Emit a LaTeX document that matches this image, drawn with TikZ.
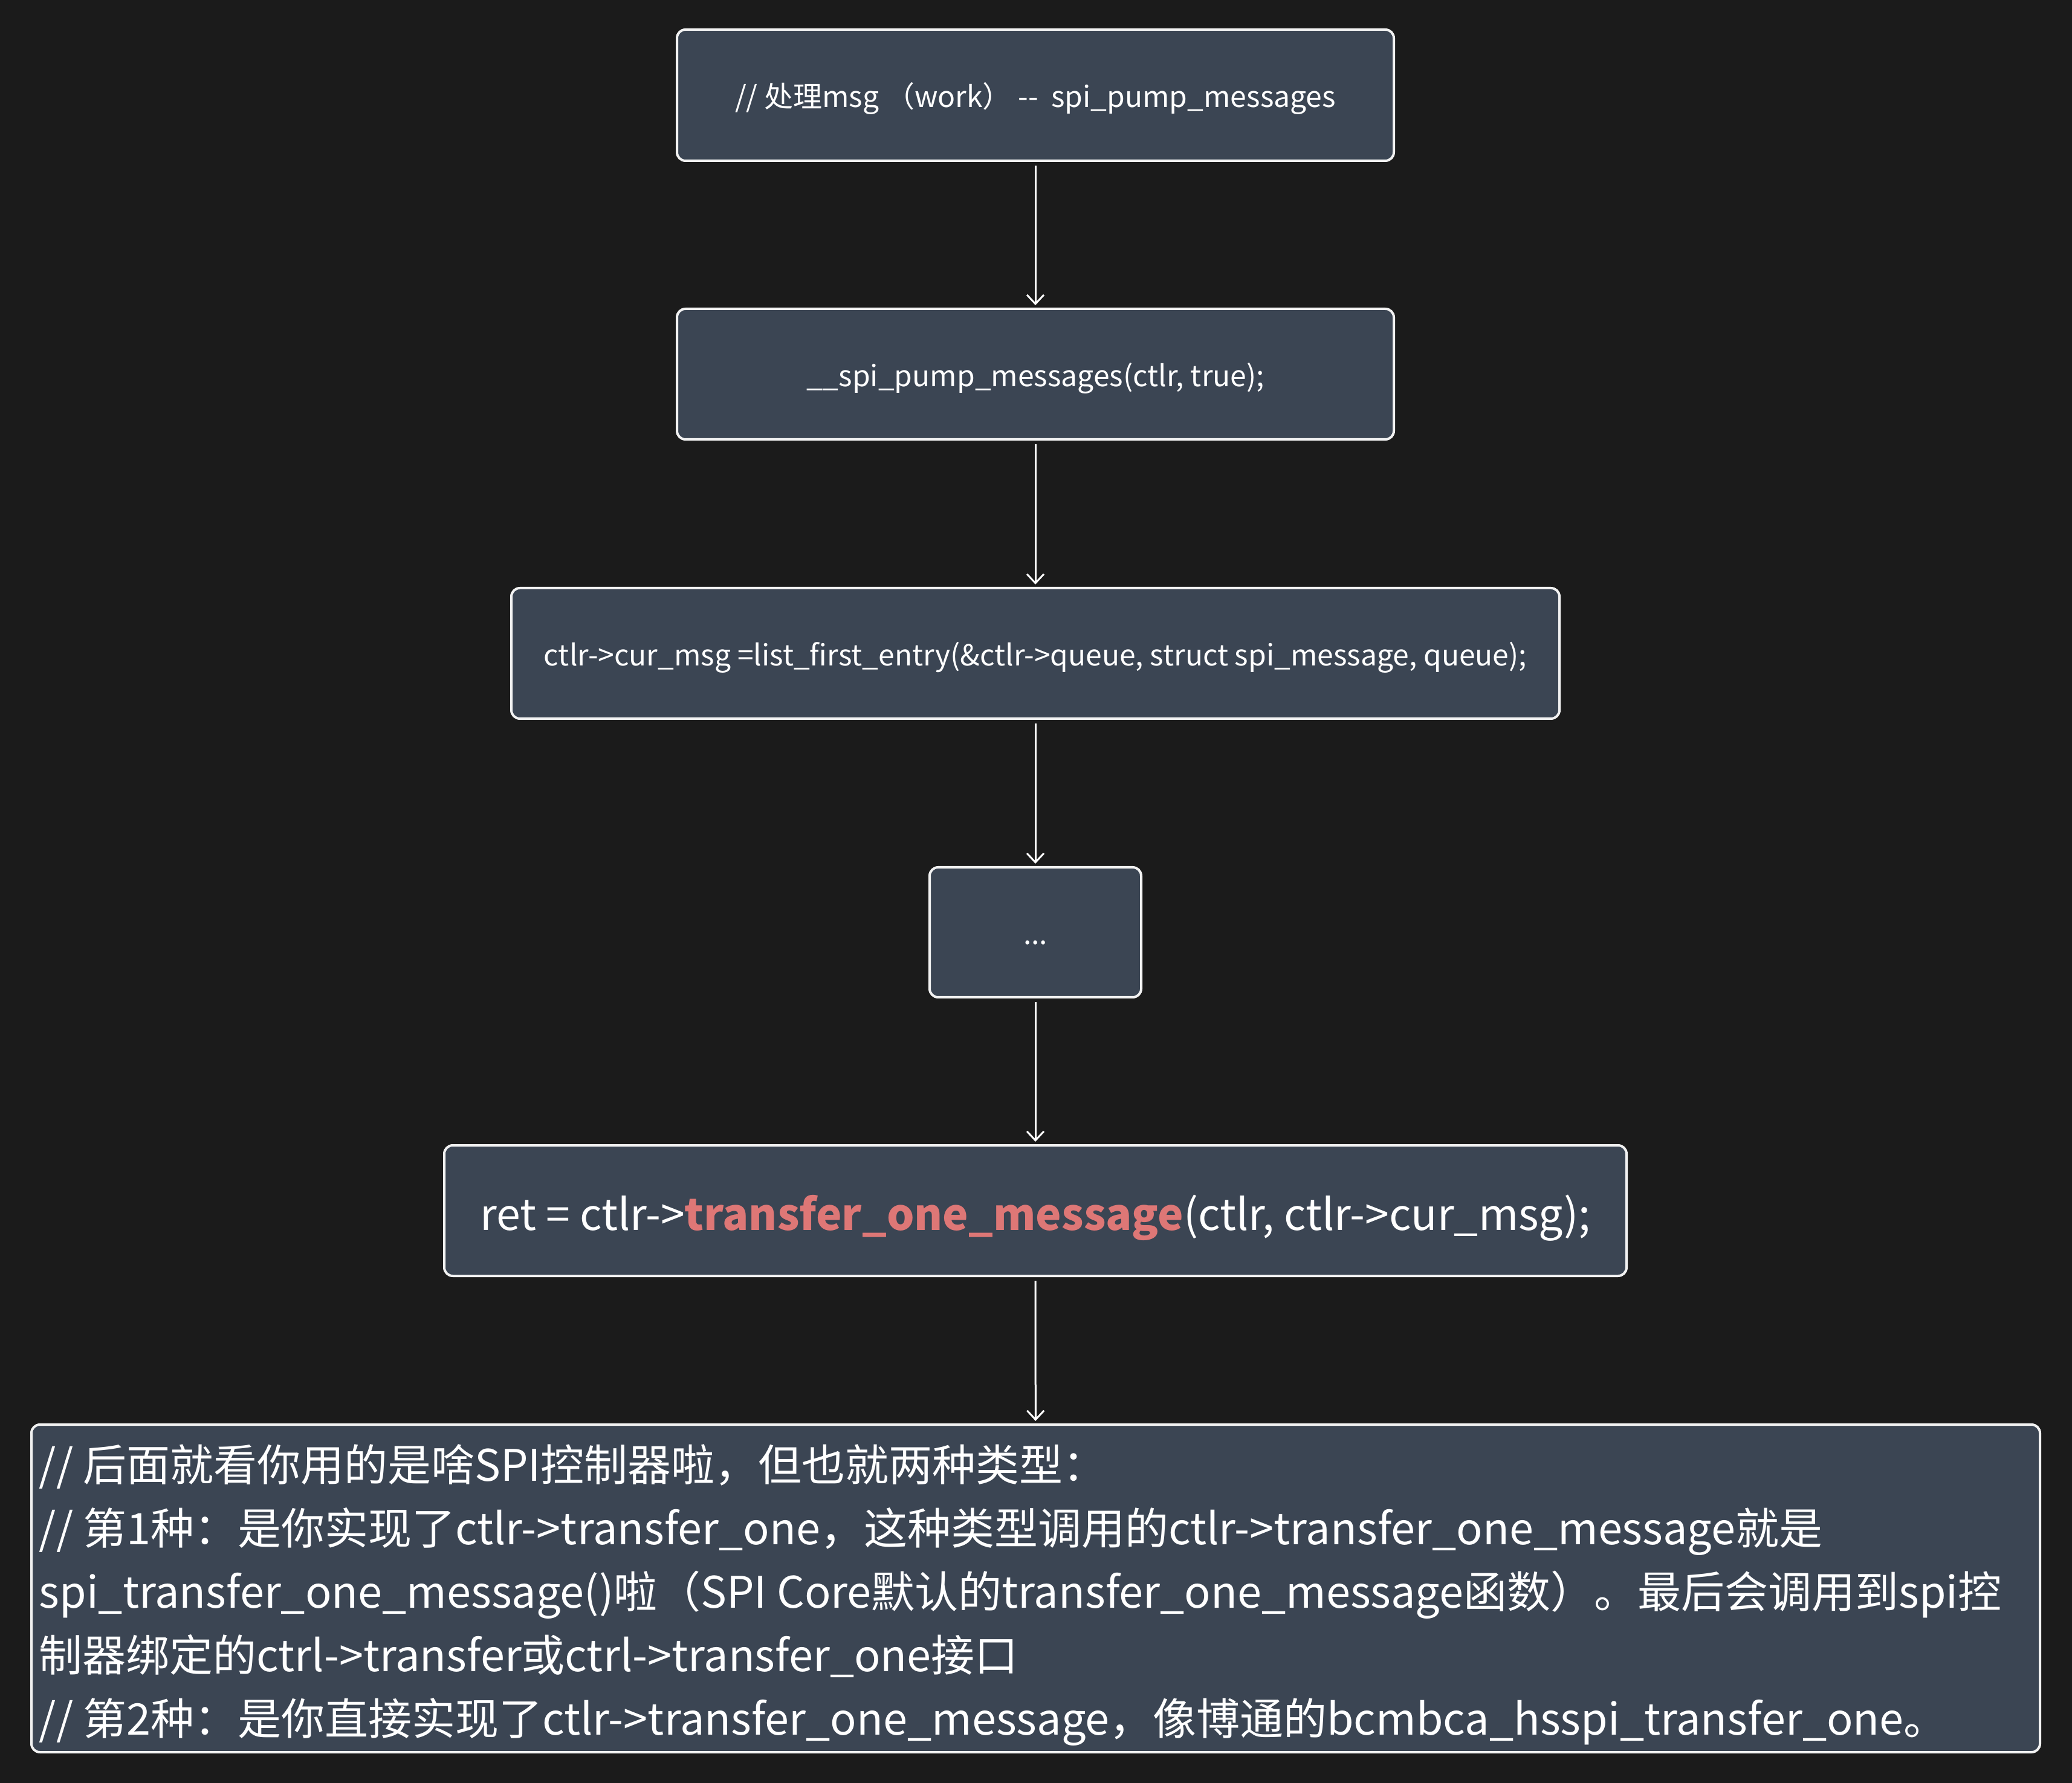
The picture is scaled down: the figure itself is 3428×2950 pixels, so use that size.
\documentclass[tikz,border=0pt]{standalone}
\usepackage{fontspec}
\setmainfont{Noto Sans CJK SC}
\usetikzlibrary{arrows.meta}
\definecolor{bgc}{HTML}{1B1B1B}
\definecolor{boxfill}{HTML}{3B4553}
\definecolor{boxline}{HTML}{F2F2F2}
\definecolor{hl}{HTML}{DE7776}
\begin{document}
\begin{tikzpicture}[x=0.25pt,y=-0.25pt,
  box/.style={draw=boxline, fill=boxfill, line width=1pt, rounded corners=3.5pt, text=white, inner sep=0pt},
  small/.style={font=\fontsize{12pt}{15pt}\selectfont, text height=13pt, text depth=2.8pt},
  big/.style={font=\fontsize{17.9pt}{21pt}\selectfont, text height=19pt, text depth=3pt},
  arr/.style={draw=white, line width=0.75pt, -{Straight Barb[length=3.75pt,width=7pt]}, shorten <=1.5pt, shorten >=1pt}]
\fill[bgc] (0,0) rectangle (3428,2950);
\useasboundingbox (0,0) rectangle (3428,2950);

\node[box, small, minimum width=296.5pt, minimum height=54.25pt] (b1) at (1713,157.5) {// 处理msg （work） -{}-\ \ spi\_pump\_messages};
\node[box, small, minimum width=296.5pt, minimum height=54pt] (b2) at (1713,619) {\_\_spi\_pump\_messages(ctlr, true);};
\node[box, small, minimum width=433.5pt, minimum height=54pt] (b3) at (1713,1081) {ctlr->cur\_msg =list\_first\_entry(\&ctlr->queue, struct spi\_message, queue);};
\node[box, small, minimum width=87.5pt, minimum height=53.75pt] (b4) at (1713,1542.5) {...};
\node[box, big, minimum width=489pt, minimum height=54pt] (b5) at (1713,2003) {ret = ctlr->\textcolor{hl}{\textbf{transfer\_one\_message}}(ctlr, ctlr->cur\_msg);};
\node[box, minimum width=830.75pt, minimum height=135.5pt] (b6) at (1713.5,2628) {};
\node[anchor=west, align=left, inner sep=0pt, text=white, font=\fontsize{18pt}{26.25pt}\selectfont] (t6) at ([xshift=3.5pt,yshift=-2.75pt]b6.west) {// 后面就看你用的是啥SPI控制器啦，但也就两种类型：\\
// 第1种：是你实现了ctlr->transfer\_one，这种类型调用的ctlr->transfer\_one\_message就是\\
spi\_transfer\_one\_message()啦（SPI Core默认的transfer\_one\_message函数）。最后会调用到spi控\\
制器绑定的ctrl->transfer或ctrl->transfer\_one接口\\
// 第2种：是你直接实现了ctlr->transfer\_one\_message，像博通的bcmbca\_hsspi\_transfer\_one。};

\draw[arr] (b1) -- (b2);
\draw[arr] (b2) -- (b3);
\draw[arr] (b3) -- (b4);
\draw[arr] (b4) -- (b5);
\draw[arr] (b5) -- (b6);
\end{tikzpicture}
\end{document}
